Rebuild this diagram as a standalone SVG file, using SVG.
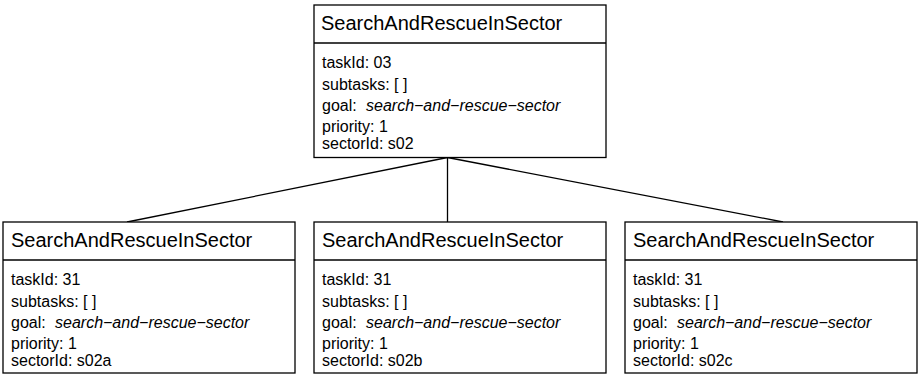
<svg xmlns="http://www.w3.org/2000/svg" width="919" height="374" viewBox="0 0 919 374">
<style>
.box{fill:#fff;stroke:#000;stroke-width:1.3}
.sep{stroke:#000;stroke-width:1.3}
.t{font-family:"Liberation Sans",Arial,sans-serif;font-size:20px;fill:#000}
.a{font-family:"Liberation Sans",Arial,sans-serif;font-size:16px;fill:#000}
.i{font-style:italic}
.c{stroke:#000;stroke-width:1.3;fill:none}
</style>
<g id="connectors">
<line class="c" x1="447.5" y1="157.5" x2="127" y2="222"/>
<line class="c" x1="447.5" y1="157.5" x2="447.5" y2="222"/>
<line class="c" x1="447.5" y1="157.5" x2="783" y2="222"/>
</g>
<g id="root">
<rect class="box" x="314" y="5" width="292" height="152.5"/>
<line class="sep" x1="314" y1="43" x2="606" y2="43"/>
<text class="t" x="321" y="30">SearchAndRescueInSector</text>
<text class="a" x="322" y="68">taskId: 03</text>
<text class="a" x="322" y="90">subtasks: [ ]</text>
<text class="a" x="322" y="111">goal: <tspan class="i" x="366">search−and−rescue−sector</tspan></text>
<text class="a" x="322" y="132">priority: 1</text>
<text class="a" x="322" y="149">sectorId: s02</text>
</g>
<g id="child-a">
<rect class="box" x="3" y="222" width="292" height="151"/>
<line class="sep" x1="3" y1="260" x2="295" y2="260"/>
<text class="t" x="11" y="247">SearchAndRescueInSector</text>
<text class="a" x="11" y="285">taskId: 31</text>
<text class="a" x="11" y="307">subtasks: [ ]</text>
<text class="a" x="11" y="328">goal: <tspan class="i" x="55">search−and−rescue−sector</tspan></text>
<text class="a" x="11" y="349">priority: 1</text>
<text class="a" x="11" y="366">sectorId: s02a</text>
</g>
<g id="child-b">
<rect class="box" x="314" y="222" width="292" height="151"/>
<line class="sep" x1="314" y1="260" x2="606" y2="260"/>
<text class="t" x="322" y="247">SearchAndRescueInSector</text>
<text class="a" x="322" y="285">taskId: 31</text>
<text class="a" x="322" y="307">subtasks: [ ]</text>
<text class="a" x="322" y="328">goal: <tspan class="i" x="366">search−and−rescue−sector</tspan></text>
<text class="a" x="322" y="349">priority: 1</text>
<text class="a" x="322" y="366">sectorId: s02b</text>
</g>
<g id="child-c">
<rect class="box" x="625" y="222" width="292" height="151"/>
<line class="sep" x1="625" y1="260" x2="917" y2="260"/>
<text class="t" x="633" y="247">SearchAndRescueInSector</text>
<text class="a" x="633" y="285">taskId: 31</text>
<text class="a" x="633" y="307">subtasks: [ ]</text>
<text class="a" x="633" y="328">goal: <tspan class="i" x="677">search−and−rescue−sector</tspan></text>
<text class="a" x="633" y="349">priority: 1</text>
<text class="a" x="633" y="366">sectorId: s02c</text>
</g>
</svg>
